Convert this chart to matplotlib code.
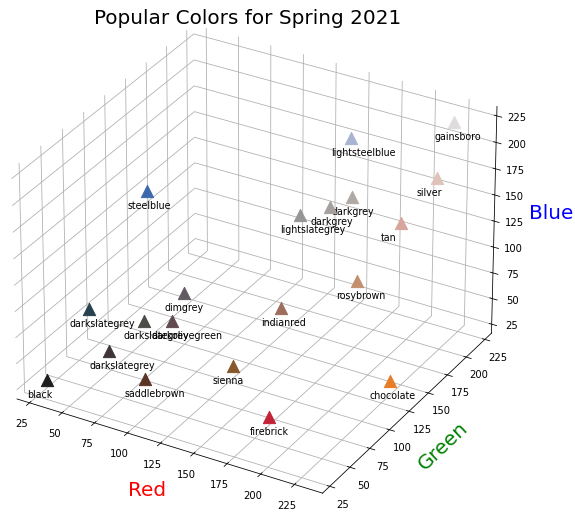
import matplotlib
matplotlib.use("Agg")
import matplotlib.pyplot as plt
from mpl_toolkits.mplot3d import proj3d

names = ["black", "darkslategrey", "darkslategrey", "darkslategrey", "darkolivegreen",
         "dimgrey", "saddlebrown", "sienna", "indianred", "firebrick", "chocolate",
         "rosybrown", "tan", "silver", "gainsboro", "lightsteelblue", "darkgrey",
         "darkgrey", "lightslategrey", "steelblue"]
red   = [30, 40, 75, 63, 97, 97, 90, 135, 158, 195, 231, 195, 215, 224, 222, 168, 175, 165, 148, 60]
green = [30, 65, 76, 53, 75, 90, 53, 88, 110, 35, 125, 143, 165, 195, 220, 180, 170, 160, 150, 105]
blue  = [30, 78, 72, 55, 81, 98, 38, 43, 93, 55, 40, 110, 158, 184, 220, 211, 165, 158, 151, 172]

fig = plt.figure(figsize=(575/72, 520/72), dpi=72)
ax = fig.add_subplot(projection='3d')
ax.set_position([-0.046, 0.0, 0.96, 1.0])
ax.view_init(elev=30, azim=-60)
ax.set_proj_type('persp', focal_length=2.0)
ax.set_box_aspect(None, zoom=1.05)

for r, g, b in zip(red, green, blue):
    ax.scatter(r, g, b, color=(r/255, g/255, b/255), marker='^', s=150, depthshade=False)

for pane in (ax.xaxis.pane, ax.yaxis.pane, ax.zaxis.pane):
    pane.set_facecolor((1, 1, 1, 0))
    pane.set_edgecolor((1, 1, 1, 0))

ax.set_xlabel("Red", color="red", fontsize=20, labelpad=10)
ax.set_ylabel("Green", color="green", fontsize=20, labelpad=9)
ax.set_zlabel("Blue", color="blue", fontsize=20, labelpad=12)
ax.tick_params(labelsize=10)
fig.suptitle("Popular Colors for Spring 2021", fontsize=20, x=0.431, y=1 - 18/520, va='center')

fig.canvas.draw()
M = ax.get_proj()
for n, r, g, b in zip(names, red, green, blue):
    x2, y2, _ = proj3d.proj_transform(r, g, b, M)
    ax.annotate(n, xy=(x2, y2), xycoords='data', xytext=(-20, -15),
                textcoords='offset points', ha='left', va='center', fontsize=9.5)

fig.savefig("out.png", dpi=72)
